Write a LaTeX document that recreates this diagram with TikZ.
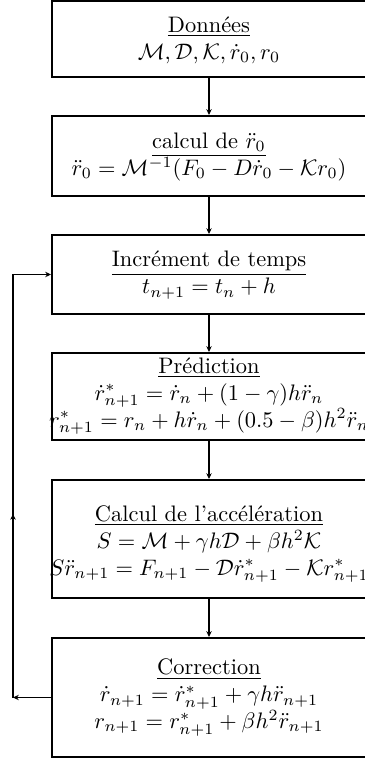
\documentclass[tikz,border=0pt]{standalone}
\usetikzlibrary{arrows.meta,decorations.markings}
\begin{document}
\begin{tikzpicture}[x=0.446pt,y=-0.446pt,
  box/.style={draw, line width=0.9pt, minimum width=140pt, inner sep=0pt},
  txt/.style={align=center, inner sep=0pt},
  conn/.style={line width=0.7pt},
  tip/.style={-{Stealth[length=2.6pt,width=2.4pt]}},
  midup/.style={postaction={decorate}, decoration={markings,
     mark=at position 0.434 with {\arrow{Stealth[length=2.6pt,width=2.4pt]}}}}
]
\useasboundingbox (0,0) rectangle (364,760);
\node[box, minimum height=33.9pt] (b1) at (209,39) {};
\node[box, minimum height=35.7pt] (b2) at (209,156) {};
\node[box, minimum height=35.2pt] (b3) at (209,274.5) {};
\node[box, minimum height=38.8pt] (b4) at (209,396.5) {};
\node[box, minimum height=52.6pt] (b5) at (209,539) {};
\node[box, minimum height=53.1pt] (b6) at (209,697.5) {};

\node[txt] (t1) at (209,40) {\underline{Données}\\ $\mathcal{M},\mathcal{D},\mathcal{K},\dot r_0,r_0$};
\node[txt] (t2) at (209,157) {\underline{calcul de $\ddot r_0$}\\ $\ddot r_0=\mathcal{M}^{-1}(F_0-D\dot r_0-\mathcal{K}r_0)$};
\node[txt] (t3) at (209,275) {\underline{Incrément de temps}\\ $t_{n+1}=t_n+h$};
\node[txt] (t4) at (209,396) {\underline{Prédiction}\\ $\dot r^*_{n+1}=\dot r_n+(1-\gamma)h\ddot r_n$\\ $r^*_{n+1}=r_n+h\dot r_n+(0.5-\beta)h^2\ddot r_n$};
\node[txt] (t5) at (209,544) {\underline{Calcul de l'accélération}\\ $S=\mathcal{M}+\gamma h\mathcal{D}+\beta h^2\mathcal{K}$\\ $S\ddot r_{n+1}=F_{n+1}-\mathcal{D}\dot r^*_{n+1}-\mathcal{K}r^*_{n+1}$};
\node[txt] (t6) at (209,697.5) {\underline{Correction}\\ $\dot r_{n+1}=\dot r^*_{n+1}+\gamma h\ddot r_{n+1}$\\ $r_{n+1}=r^*_{n+1}+\beta h^2\ddot r_{n+1}$};

\draw[conn,tip] (b1) -- (b2);
\draw[conn,tip] (b2) -- (b3);
\draw[conn,tip] (b3) -- (b4);
\draw[conn,tip] (b4) -- (b5);
\draw[conn,tip] (b5) -- (b6);

\coordinate (c1) at (13,697.5);
\coordinate (c2) at (13,274.5);
\draw[conn,tip] (b6.west) -- (c1);
\draw[conn,midup] (c1) -- (c2);
\draw[conn,tip] (c2) -- (b3.west);
\end{tikzpicture}
\end{document}
